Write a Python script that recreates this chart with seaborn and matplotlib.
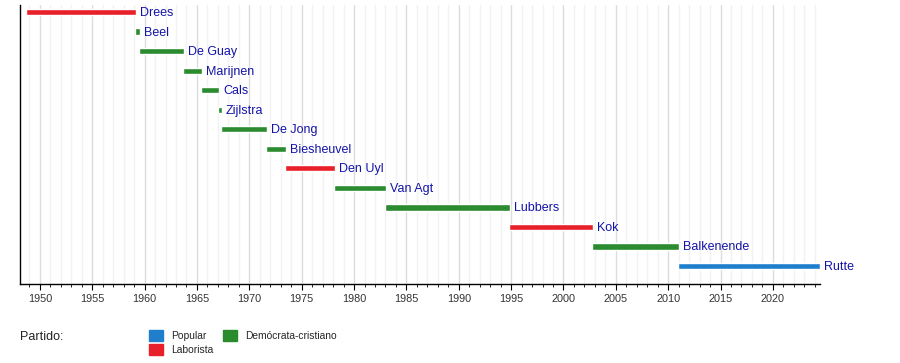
import pandas as pd
import matplotlib.pyplot as plt
import matplotlib.patches as mpatches
from matplotlib.ticker import MultipleLocator
import seaborn as sns

# Prime ministers of the Netherlands, start / end as decimal years
names = ["Drees", "Beel", "De Guay", "Marijnen", "Cals", "Zijlstra", "De Jong",
         "Biesheuvel", "Den Uyl", "Van Agt", "Lubbers", "Kok", "Balkenende", "Rutte"]
starts = [1948.66, 1959.07, 1959.45, 1963.66, 1965.38, 1967.00, 1967.29,
          1971.58, 1973.40, 1978.08, 1982.95, 1994.79, 2002.72, 2010.93]
ends = [1959.17, 1959.55, 1963.75, 1965.47, 1967.09, 1967.38, 1971.68,
        1973.49, 1978.17, 1983.04, 1994.89, 2002.81, 2011.03, 2024.49]
parties = ["Laborista", "Demócrata-cristiano", "Demócrata-cristiano", "Demócrata-cristiano",
           "Demócrata-cristiano", "Demócrata-cristiano", "Demócrata-cristiano",
           "Demócrata-cristiano", "Laborista", "Demócrata-cristiano", "Demócrata-cristiano",
           "Laborista", "Demócrata-cristiano", "Popular"]

party_colors = {"Popular": "#1f7fcc", "Laborista": "#e8202a", "Demócrata-cristiano": "#2a8c2e"}

df = pd.DataFrame({"name": names, "start": starts, "end": ends, "party": parties})
df["length"] = df["end"] - df["start"]
df["row"] = range(len(df))

sns.set_style("white")
plt.rcParams["font.family"] = ["Liberation Sans", "DejaVu Sans"]

fig = plt.figure(figsize=(9, 3.63), dpi=100)
ax = fig.add_axes([20 / 900, 79 / 363, 800 / 900, 279 / 363])

# grid: minor every year, major every 5 years
ax.set_xlim(1948.1, 2024.5)
ax.set_ylim(13.92, -0.36)
ax.xaxis.set_major_locator(MultipleLocator(5))
ax.xaxis.set_minor_locator(MultipleLocator(1))
ax.grid(which="major", axis="x", color="#dcdcdc", lw=1.0)
ax.grid(which="minor", axis="x", color="#f2f2f2", lw=1.0)
ax.set_axisbelow(True)

ax.barh(df["row"], df["length"], left=df["start"], height=0.32,
        color=[party_colors[p] for p in df["party"]], zorder=3)

for _, r in df.iterrows():
    ax.text(r["end"] + 0.4, r["row"] + 0.05, r["name"], va="center", ha="left",
            fontsize=9, color="#1414a8", zorder=4)

for side in ["top", "right"]:
    ax.spines[side].set_visible(False)
for side in ["left", "bottom"]:
    ax.spines[side].set_color("black")
    ax.spines[side].set_linewidth(1.0)
ax.set_yticks([])
ax.tick_params(axis="x", which="major", direction="out", length=4, width=0.8,
               labelsize=7.8, colors="black", labelcolor="#333333", pad=3.5, bottom=True)
ax.tick_params(axis="x", which="minor", direction="out", length=2, width=0.6,
               colors="black", bottom=True)

# legend
fig.text(20 / 900, 1 - 337 / 363, "Partido:", fontsize=9, va="center", ha="left", color="#222222")
handles = [mpatches.Patch(color=party_colors[p], label=p)
           for p in ["Popular", "Laborista", "Demócrata-cristiano"]]
fig.legend(handles=handles, ncol=2, loc="upper left", bbox_to_anchor=(141 / 900, 1 - 322 / 363),
           frameon=False, fontsize=7.4, handlelength=1.3, handleheight=1.3,
           handletextpad=0.8, columnspacing=1.0, labelspacing=0.25, borderpad=0.3)

fig.savefig("out.png", dpi=100)
